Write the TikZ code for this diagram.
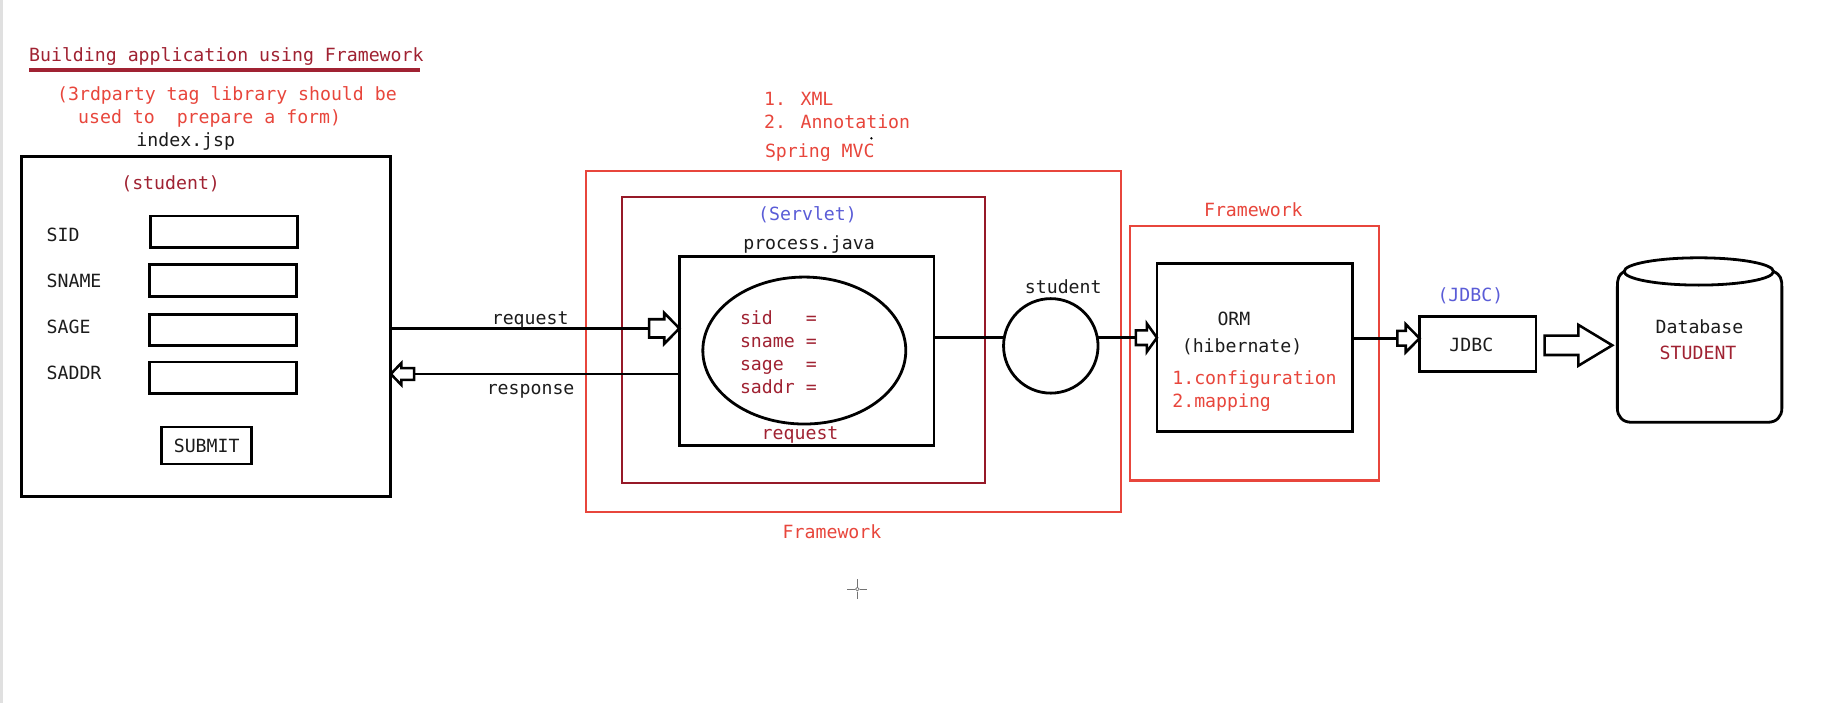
\documentclass[tikz,border=0pt]{standalone}
\usepackage{fontspec}
\setmainfont{DejaVu Sans Mono}
\usetikzlibrary{shapes.geometric,calc}
\definecolor{lred}{RGB}{232,70,60}
\definecolor{dred}{RGB}{160,34,50}
\definecolor{sred}{RGB}{150,25,40}
\definecolor{jblue}{RGB}{90,92,215}
\definecolor{ink}{RGB}{28,28,28}
\newcommand\fs{\fontsize{15.6}{18}\selectfont}
\newcommand\harrow[6]{\begin{scope}[shift={(#1)},xscale=#2]
\draw[harrowst] (0,0) -- (-#4,-#5) -- (-#4,-#6) -- (-#3,-#6) -- (-#3,#6) -- (-#4,#6) -- (-#4,#5) -- cycle;
\end{scope}}
\begin{document}
\begin{tikzpicture}[x=1pt,y=-1pt,
  txt/.style={inner sep=0pt, outer sep=0pt, anchor=west, text height=11pt, text depth=0pt, font=\fs, text=ink},
  bbox/.style={draw=black, line width=2.4pt, inner sep=0pt, outer sep=0pt, rectangle},
  rbox/.style={draw=lred, line width=1.8pt, inner sep=0pt, outer sep=0pt, rectangle},
  conn/.style={draw=black, line width=2.2pt},
  harrowst/.style={draw=black, fill=white, line width=2.2pt, line join=miter},
]
\useasboundingbox (0,0) rectangle (1570.5,603);
\fill[white] (0,0) rectangle (1570.5,603);
\fill[black!12] (0,0) rectangle (2.5,603);

% ---------- title ----------
\node[txt, text=dred] (title) at (25,47.5) {Building application using Framework};
\draw[dred, line width=2.6pt] (25,60) -- (360,60);
\node[txt, text=lred] (n3rd) at (49,81) {(3rdparty tag library should be};
\node[txt, text=lred] (nused) at (67,100) {used to\ \ prepare a form)};
\node[txt] (index) at (117,120) {index.jsp};

% ---------- form ----------
\node[bbox, minimum width=316.3pt, minimum height=291.8pt] (form) at (176.85,279.9) {};
\node[txt, text=dred] (stu) at (104,157) {(student)};
\node[txt] (lsid) at (40,201.5) {SID};
\node[txt] (lsname) at (40,240.9) {SNAME};
\node[txt] (lsage) at (40,280) {SAGE};
\node[txt] (lsaddr) at (40,320) {SADDR};
\node[bbox, minimum width=126pt, minimum height=27pt] (fsid) at (192,198.6) {};
\node[bbox, minimum width=126pt, minimum height=27pt] (fsname) at (191,240.5) {};
\node[bbox, minimum width=126pt, minimum height=27pt] (fsage) at (191,282.9) {};
\node[bbox, minimum width=126pt, minimum height=27pt] (fsaddr) at (191,323.9) {};
\node[bbox, minimum width=77pt, minimum height=31.8pt, font=\fs, text=ink] (submit) at (177.2,381.9) {SUBMIT};

% ---------- Spring MVC ----------
\node[txt, text=lred] (xml) at (655,85.1) {1. XML};
\node[txt, text=lred] (anno) at (655,104.3) {2. Annotation};
\node[txt, text=lred] (smvc) at (655.8,129.1) {Spring MVC};
\fill[black] (747,118.6) circle (1.1pt);
\node[rbox, minimum width=458.6pt, minimum height=292.6pt] (spring) at (731.7,292.6) {};
\node[rectangle, draw=sred, line width=2pt, inner sep=0pt, outer sep=0pt, minimum width=311.4pt, minimum height=245.7pt] (servlet) at (688.7,291.45) {};
\node[txt, text=jblue] (lserv) at (650,183.4) {(Servlet)};
\node[txt] (lproc) at (637.2,208) {process.java};
\node[bbox, minimum width=218.3pt, minimum height=162pt] (proc) at (691.55,301) {};
\node[ellipse, draw=black, line width=2.4pt, inner sep=0pt, outer sep=0pt, minimum width=174pt, minimum height=126pt] (obj) at (689.5,300.5) {};
\node[txt, text=dred] (esid) at (634.4,272.9) {sid\ \ \ =};
\node[txt, text=dred] (esname) at (634.4,292.3) {sname =};
\node[txt, text=dred] (esage) at (634.4,312.3) {sage\ \ =};
\node[txt, text=dred] (esaddr) at (634.4,331.5) {saddr =};
\node[txt, text=dred] (ereq) at (653,371.5) {request};
\node[txt, text=lred] (fw1) at (671,455.8) {Framework};

% ---------- student ----------
\node[circle, draw=black, line width=2.4pt, inner sep=0pt, outer sep=0pt, minimum size=81pt] (stud) at (900.8,296.5) {};
\node[txt] (lstud) at (878.6,245.7) {student};

% ---------- ORM ----------
\node[txt, text=lred] (fw2) at (1032.2,180) {Framework};
\node[rbox, minimum width=213.3pt, minimum height=218.1pt] (fwbox) at (1075.45,302.85) {};
\node[bbox, minimum width=167.3pt, minimum height=144pt] (orm) at (1075.45,297.7) {};
\node[txt] (lorm) at (1043.7,273.5) {ORM};
\node[txt] (lhib) at (1013.1,296.3) {(hibernate)};
\node[txt, text=lred] (lconf) at (1005,324.3) {1.configuration};
\node[txt, text=lred] (lmap) at (1005,344) {2.mapping};

% ---------- JDBC ----------
\node[txt, text=jblue] (ljdbc) at (1232.3,252.9) {(JDBC)};
\node[bbox, minimum width=99.8pt, minimum height=47.5pt] (jdbc) at (1266.8,295.05) {};
\node[txt] (tjdbc) at (1242.5,295.8) {JDBC};

% ---------- Database ----------
\draw[black, line width=2.4pt] (1392.3,232.7) .. controls (1387.5,235.5) and (1386.5,239) .. (1386.5,246)
  -- (1386.5,350) .. controls (1386.5,357) and (1391,362) .. (1398.5,362)
  -- (1515.5,362) .. controls (1523,362) and (1527.5,357) .. (1527.5,350)
  -- (1527.5,246) .. controls (1527.5,239) and (1526.5,235.5) .. (1520.3,232.7);
\draw[black, line width=2.4pt] (1456.3,232.7) ellipse [x radius=64pt, y radius=11.7pt];
\coordinate (dbw) at (1386.5,296);
\node[txt] (ldb) at (1419.3,280.5) {Database};
\node[txt, text=dred] (ldbs) at (1422.8,302.7) {STUDENT};

% ---------- connectors ----------
\coordinate (reqtip) at (proc.west |- 0,281.5);
\coordinate (reqtail) at ($(reqtip)+(-26,0)$);
\draw[conn] (form.east |- reqtip) -- (reqtail);
\harrow{reqtip}{1}{26}{13}{13.3}{7.8}
\node[txt] (lreq) at (421.6,272.9) {request};

\coordinate (restip) at (form.east |- 0,320.6);
\coordinate (restail) at ($(restip)+(20,0)$);
\draw[conn] (proc.west |- restip) -- (restail);
\harrow{restip}{-1}{20}{9}{9.3}{5}
\node[txt] (lres) at (417.3,332.9) {response};

\draw[conn] (proc.east |- stud.170) -- (stud.170);

\coordinate (ormtip) at (orm.west |- stud.10);
\coordinate (ormtail) at ($(ormtip)+(-18,0)$);
\draw[conn] (stud.10) -- (ormtail);
\harrow{ormtip}{1}{18}{8.6}{12}{6.3}

\coordinate (jtip) at (jdbc.west |- 0,290);
\coordinate (jtail) at ($(jtip)+(-19,0)$);
\draw[conn] (orm.east |- jtip) -- (jtail);
\harrow{jtip}{1}{19}{11.8}{12}{6.3}

\coordinate (btip) at ($(dbw)+(-4.4,0)$);
\harrow{btip}{1}{58}{29}{17.5}{8.3}

% ---------- cursor ----------
\draw[black!55, line width=0.9pt] (726.5,505) -- (732.8,505) (737.2,505) -- (743.5,505)
  (735,496.5) -- (735,502.8) (735,507.2) -- (735,513.5);
\draw[black!55, line width=0.6pt] (735,505) circle (1.6pt);
\end{tikzpicture}
\end{document}
